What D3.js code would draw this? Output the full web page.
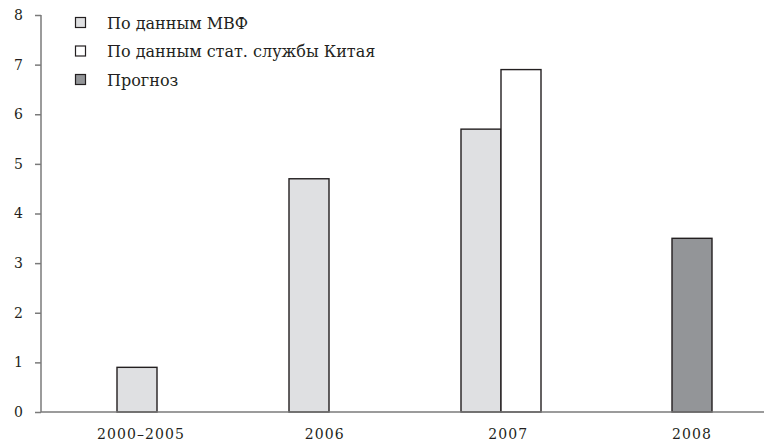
<!DOCTYPE html>
<html>
<head>
<meta charset="utf-8">
<script src="https://cdn.jsdelivr.net/npm/d3@7"></script>
<style>
html,body{margin:0;padding:0;background:#fff;}
svg{display:block;}
text{font-family:"DejaVu Serif","Liberation Serif",serif;fill:#231f20;}
</style>
</head>
<body>
<svg id="chart" width="765" height="443"></svg>
<script>
// ---- data ----
const categories = ["2000–2005", "2006", "2007", "2008"];
const seriesNames = ["По данным МВФ", "По данным стат. службы Китая", "Прогноз"];
const imfValues = [0.9, 4.7, 5.7, null];
const chinaValues = [null, null, 6.9, null];
const forecastValues = [null, null, null, 3.5];
const yTicks = [0, 1, 2, 3, 4, 5, 6, 7, 8];

// ---- layout / style ----
const colors = ["#dfe0e2", "#ffffff", "#939598"];
const x0 = 41, x1 = 764, yBase = 412, yTop = 15;
const barW = 40;

const svg = d3.select("#chart");

const y = d3.scaleLinear().domain([0, 8]).range([yBase, yTop]);
// label positions (uniform) and bar-group centres
const xLabel = d3.scalePoint().domain(categories).range([141, 692]);
const xPos = d3.scaleOrdinal().domain(categories).range([137, 309, 501, 692]);

// build bar records
const bars = [];
categories.forEach((c, i) => {
  const vals = [imfValues[i], chinaValues[i], forecastValues[i]];
  const present = vals.map((v, s) => ({v, s})).filter(d => d.v != null);
  const n = present.length;
  present.forEach((d, k) => {
    bars.push({cat: c, series: d.s, value: d.v, offset: (k - n / 2) * barW});
  });
});

svg.append("g").selectAll("rect").data(bars).enter().append("rect")
  .attr("x", d => xPos(d.cat) + d.offset)
  .attr("y", d => y(d.value))
  .attr("width", barW)
  .attr("height", d => y(0) - y(d.value))
  .attr("fill", d => colors[d.series])
  .attr("stroke", "#231f20")
  .attr("stroke-width", 1.4);

// y axis
const yAxis = d3.axisLeft(y).tickValues(yTicks).tickSize(6).tickPadding(12).tickFormat(d3.format("d"));
const gy = svg.append("g").attr("transform", `translate(${x0},0)`).call(yAxis);
gy.select(".domain").remove();
gy.append("line").attr("x1", 0).attr("x2", 0).attr("y1", yTop).attr("y2", yBase).attr("stroke", "#7a7a7a").attr("stroke-width", 1.5);
gy.selectAll(".tick line").attr("stroke", "#7a7a7a").attr("stroke-width", 1.5);
gy.selectAll(".tick text").attr("font-size", 14).attr("fill", "#231f20").style("font-family", '"DejaVu Serif", serif');

// x axis baseline
svg.append("line").attr("x1", x0).attr("x2", x1).attr("y1", yBase).attr("y2", yBase)
  .attr("stroke", "#7a7a7a").attr("stroke-width", 1.5);

// x labels
svg.append("g").selectAll("text").data(categories).enter().append("text")
  .attr("x", d => xLabel(d))
  .attr("y", 439)
  .attr("text-anchor", "middle")
  .attr("font-size", 14)
  .attr("letter-spacing", 1.1)
  .text(d => d);

// legend
const lg = svg.append("g");
const rowY = [23, 51.5, 80];
seriesNames.forEach((name, i) => {
  lg.append("rect").attr("x", 75.5).attr("y", rowY[i] - 5.5).attr("width", 10).attr("height", 10)
    .attr("fill", colors[i]).attr("stroke", "#231f20").attr("stroke-width", 1.2);
  lg.append("text").attr("x", 107).attr("y", rowY[i] + 5.5).attr("font-size", 16).text(name);
});
</script>
</body>
</html>
